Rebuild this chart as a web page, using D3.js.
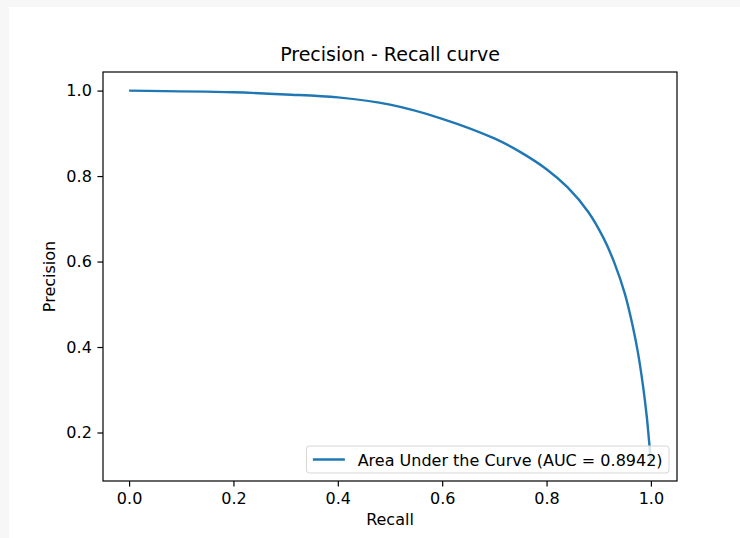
<!DOCTYPE html>
<html>
<head>
<meta charset="utf-8">
<script src="https://cdn.jsdelivr.net/npm/d3@7"></script>
<style>
  body { margin: 0; background: #f7f7f7; }
  svg { display: block; }
  text { font-family: "DejaVu Sans", sans-serif; fill: #000; }
</style>
</head>
<body>
<div class="chart"></div>
<script>
// Data
var recall = [0, 0.2, 0.3, 0.4, 0.5, 0.6, 0.7, 0.75, 0.8, 0.84, 0.88, 0.91, 0.93, 0.95, 0.965, 0.975, 0.985, 0.992, 0.997, 1.0];
var precision = [1.0, 0.996, 0.991, 0.984, 0.967, 0.934, 0.888, 0.856, 0.816, 0.774, 0.716, 0.653, 0.597, 0.525, 0.45, 0.388, 0.308, 0.238, 0.173, 0.13];
var xTicks = [0, 0.2, 0.4, 0.6, 0.8, 1.0];
var yTicks = [0.2, 0.4, 0.6, 0.8, 1.0];
var legendLabel = "Area Under the Curve (AUC = 0.8942)";

// Define SVG area dimensions
var svgWidth = 740;
var svgHeight = 538;

// Axes box in page pixels
var margin = { top: 72, right: 63, bottom: 57, left: 103 };
var width = svgWidth - margin.left - margin.right;
var height = svgHeight - margin.top - margin.bottom;

var svg = d3.select(".chart")
  .append("svg")
  .attr("width", svgWidth)
  .attr("height", svgHeight);

// white figure area with the grey page border on the top and left
svg.append("rect")
  .attr("x", 9)
  .attr("y", 7)
  .attr("width", svgWidth - 9)
  .attr("height", svgHeight - 7)
  .attr("fill", "#fff");

var chartGroup = svg.append("g")
  .attr("transform", `translate(${margin.left}, ${margin.top})`);

// matplotlib style 5% padding on both axes
var xPad = 0.05 * (d3.max(recall) - d3.min(recall));
var yPad = 0.05 * (d3.max(precision) - d3.min(precision));

var xLinearScale = d3.scaleLinear()
  .domain([d3.min(recall) - xPad, d3.max(recall) + xPad])
  .range([0, width]);

var yLinearScale = d3.scaleLinear()
  .domain([d3.min(precision) - yPad, d3.max(precision) + yPad])
  .range([height, 0]);

var bottomAxis = d3.axisBottom(xLinearScale)
  .tickValues(xTicks)
  .tickSize(5.6)
  .tickPadding(5.6)
  .tickFormat(d3.format(".1f"));

var leftAxis = d3.axisLeft(yLinearScale)
  .tickValues(yTicks)
  .tickSize(5.6)
  .tickPadding(5.6)
  .tickFormat(d3.format(".1f"));

// the curve
var points = recall.map((r, i) => ({ r: r, p: precision[i] }));

var line = d3.line()
  .x(d => xLinearScale(d.r))
  .y(d => yLinearScale(d.p))
  .curve(d3.curveCatmullRom.alpha(0.5));

chartGroup.append("path")
  .datum(points)
  .attr("d", line)
  .attr("fill", "none")
  .attr("stroke", "#1f77b4")
  .attr("stroke-width", 2.4);

// Append Axes to the chart
var xAxisG = chartGroup.append("g")
  .attr("transform", `translate(0, ${height})`)
  .call(bottomAxis);

var yAxisG = chartGroup.append("g")
  .call(leftAxis);

[xAxisG, yAxisG].forEach(function (g) {
  g.select(".domain").remove();
  g.selectAll(".tick line").attr("stroke", "#000").attr("stroke-width", 1.2);
  g.selectAll(".tick text").attr("font-size", 16).attr("fill", "#000")
    .attr("font-family", "DejaVu Sans, sans-serif");
});

// axes frame
chartGroup.append("rect")
  .attr("width", width)
  .attr("height", height)
  .attr("fill", "none")
  .attr("stroke", "#000")
  .attr("stroke-width", 1.2);

// title and labels
svg.append("text")
  .attr("x", margin.left + width / 2)
  .attr("y", 61)
  .attr("text-anchor", "middle")
  .attr("font-size", 19)
  .text("Precision - Recall curve");

svg.append("text")
  .attr("x", margin.left + width / 2)
  .attr("y", 525)
  .attr("text-anchor", "middle")
  .attr("font-size", 16)
  .text("Recall");

svg.append("text")
  .attr("transform", `translate(55, ${margin.top + height / 2}) rotate(-90)`)
  .attr("text-anchor", "middle")
  .attr("font-size", 16)
  .text("Precision");

// legend, lower right
var legend = chartGroup.append("g");
var legendBox = legend.append("rect")
  .attr("rx", 3)
  .attr("fill", "#fff")
  .attr("fill-opacity", 0.8)
  .attr("stroke", "#d6d6d6")
  .attr("stroke-width", 1);

var legendText = legend.append("text")
  .attr("font-size", 16)
  .text(legendLabel);

var textW = legendText.node().getComputedTextLength();
var boxW = 6.4 + 32 + 12.8 + textW + 6.4;
var boxH = 27;
var boxX = width - 8 - boxW;
var boxY = height - 8 - boxH;

legendBox
  .attr("x", boxX)
  .attr("y", boxY)
  .attr("width", boxW)
  .attr("height", boxH);

legend.append("line")
  .attr("x1", boxX + 6.4)
  .attr("x2", boxX + 6.4 + 32)
  .attr("y1", boxY + boxH / 2)
  .attr("y2", boxY + boxH / 2)
  .attr("stroke", "#1f77b4")
  .attr("stroke-width", 2.4);

legendText
  .attr("x", boxX + 6.4 + 32 + 12.8)
  .attr("y", boxY + boxH / 2 + 6);
</script>
</body>
</html>
